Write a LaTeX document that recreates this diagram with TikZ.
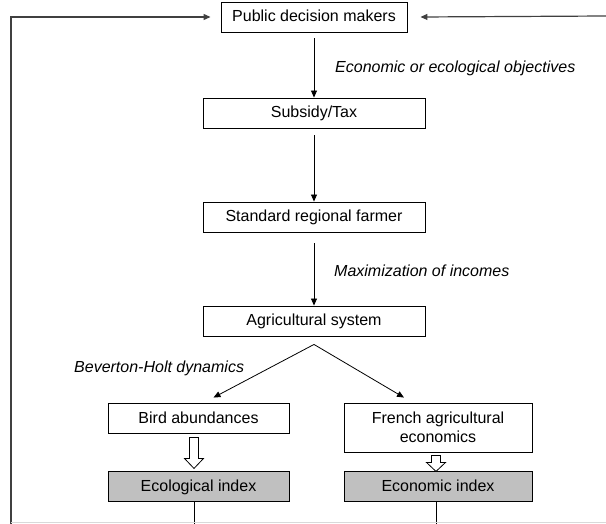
\documentclass[tikz,border=0pt]{standalone}
\usepackage{fontspec}
\setmainfont{Liberation Sans}
\usetikzlibrary{arrows.meta}
\definecolor{idxgray}{RGB}{192,192,192}
\tikzset{
  box/.style={draw, line width=0.9pt, minimum height=30pt, inner sep=2pt, align=center,
    text height=11.5pt, text depth=1.5pt},
  arr/.style={-{Triangle[length=7pt,width=6pt]}, line width=0.8pt},
  feed/.style={-{Triangle[length=7pt,width=6pt]}, line width=1.2pt, black!75},
  hollow/.style={draw, line width=0.8pt, fill=white},
  lbl/.style={font=\fontsize{16}{19}\selectfont\itshape, anchor=west, inner sep=0pt}
}
\newcommand\hollowarr[3]{\draw[hollow] (#1) -- ++(0,#2) -- ++(-5,0) -- ++(9.5,#3) -- ++(9.5,-#3) -- ++(-5,0) -- ++(0,-#2) -- cycle;}
\begin{document}
\begin{tikzpicture}[x=1pt, y=-1pt, font=\fontsize{16}{19}\selectfont]
    \useasboundingbox (0,0) rectangle (606,524);

    \node[box, minimum width=186pt] (pdm) at (314, 17) {Public decision makers};
    \node[box, minimum width=222pt] (sub) at (314, 113) {Subsidy/Tax};
    \node[box, minimum width=222pt] (farmer) at (314, 217) {Standard regional farmer};
    \node[box, minimum width=222pt] (agri) at (314, 321) {Agricultural system};
    \node[box, minimum width=181pt] (bird) at (198.5, 418) {Bird abundances};
    \node[box, minimum width=188pt, minimum height=49pt, text height=, text depth=] (french) at (438, 427.5) {French agricultural\\economics};
    \node[box, minimum width=181pt, fill=idxgray] (eco) at (198.5, 486.5) {Ecological index};
    \node[box, minimum width=188pt, fill=idxgray] (econ) at (438, 486.5) {Economic index};

    \node[lbl] (objlbl) at (335, 68) {Economic or ecological objectives};
    \node[lbl] (maxlbl) at (334, 271) {Maximization of incomes};
    \node[lbl] (bhlbl) at (74, 368) {Beverton-Holt dynamics};

    \draw[arr, shorten <=6pt] (pdm) -- (sub);
    \draw[arr, shorten <=7pt] (sub) -- (farmer);
    \draw[arr, shorten <=11pt] (farmer) -- (agri);

    \coordinate (apex) at ([yshift=-8pt]agri.south);
    \draw[arr] (apex) -- ([xshift=15pt, yshift=5pt]bird.north);
    \draw[arr] (apex) -- ([xshift=-34pt, yshift=5pt]french.north);

    \hollowarr{[xshift=-9pt, yshift=-4pt]bird.south}{21}{10}
    \hollowarr{[xshift=-6.5pt, yshift=-3pt]french.south}{7}{9}

    % feedback loops, cut at the page edge
    \coordinate (fbl) at (11, 524);
    \coordinate (fbr) at (606, 16);
    \draw[feed] (fbl) |- ([xshift=-10pt]pdm.west);
    \draw[feed] (fbr) -- ([xshift=13pt]pdm.east);
    \draw[line width=0.8pt] ([xshift=-4.5pt]eco.south) -- ++(0,22);
    \draw[line width=0.8pt] ([xshift=-2pt]econ.south) -- ++(0,22);
    \draw[black!15, line width=0.8pt] (11, 522) -- (606, 522);
  \end{tikzpicture}
\end{document}
